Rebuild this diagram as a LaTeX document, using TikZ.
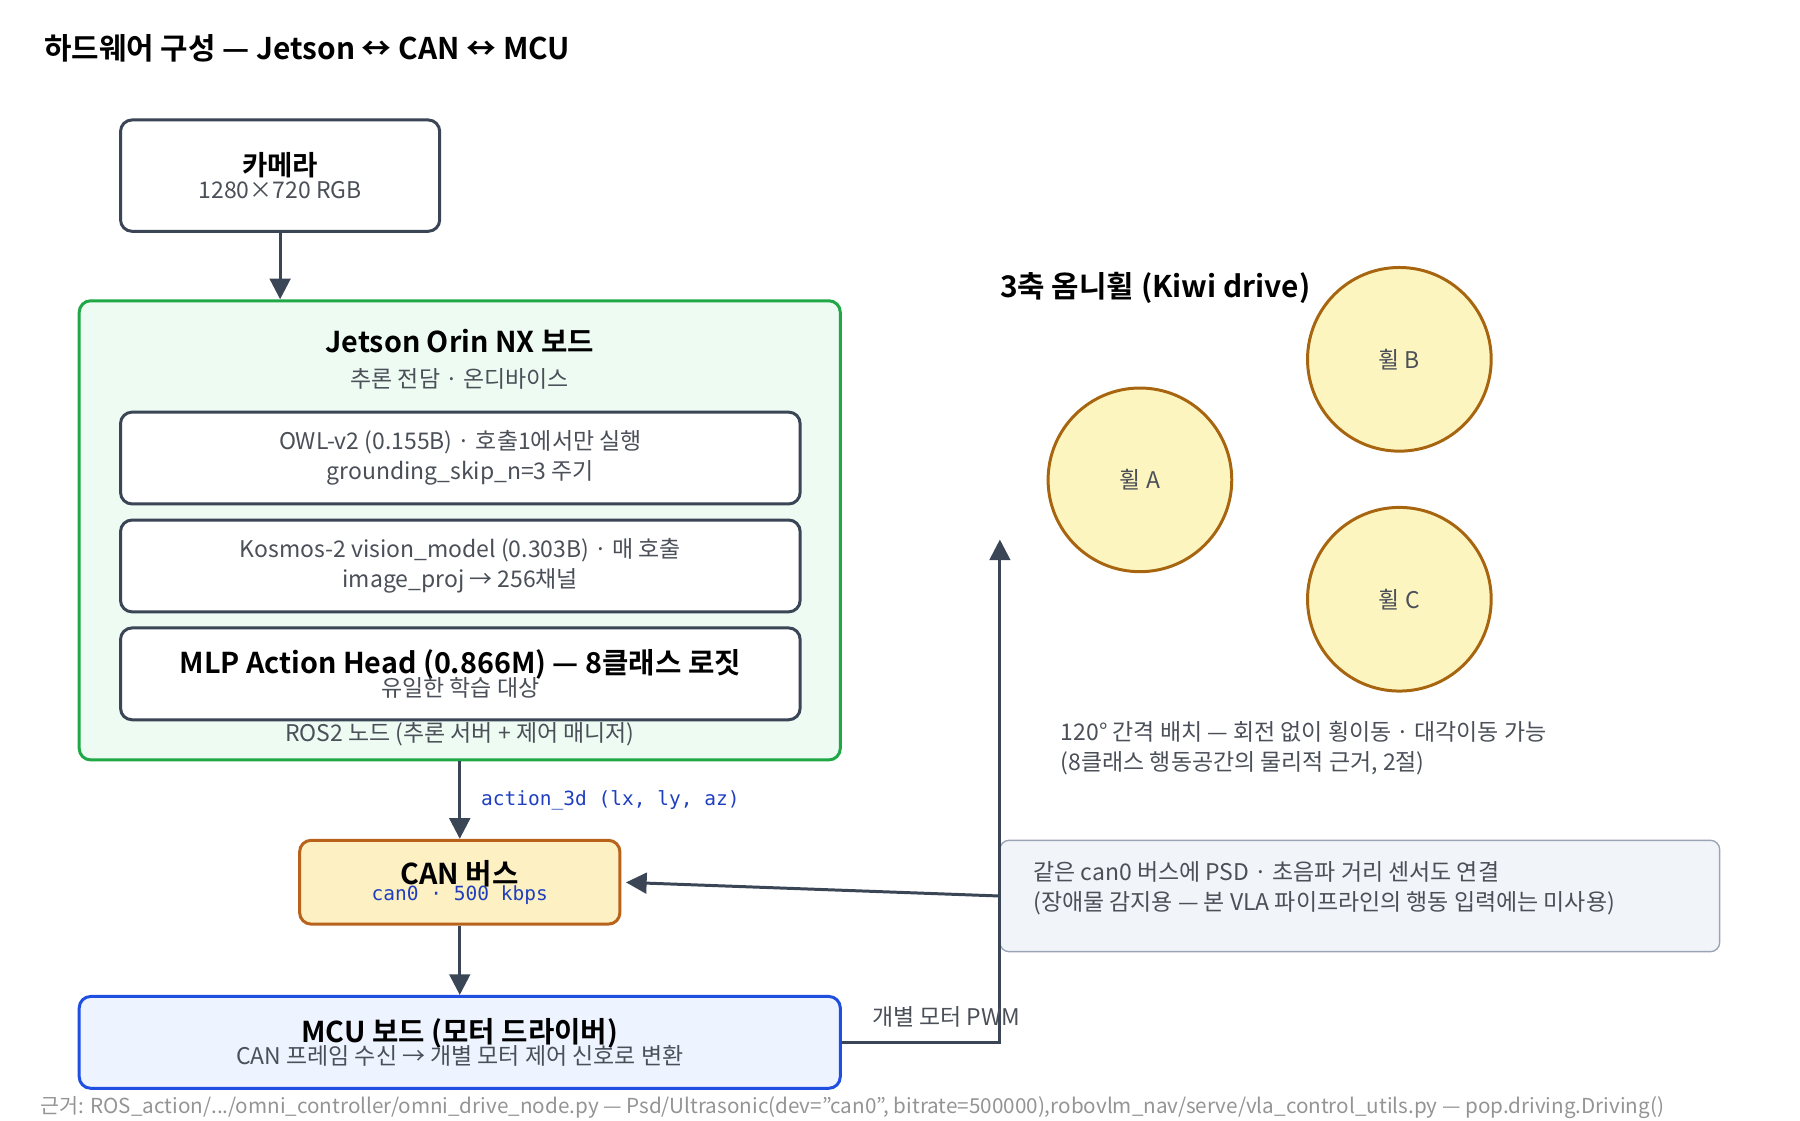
\documentclass[tikz,border=0pt]{standalone}
\usepackage{fontspec}
\setmainfont{Noto Sans CJK KR}[BoldFont={Noto Sans CJK KR Bold}]
\newfontfamily\codefont{DejaVu Sans Mono}
\usetikzlibrary{positioning,arrows.meta}
\definecolor{ink}{HTML}{3A4556}
\definecolor{txtgray}{HTML}{4A4F58}
\definecolor{jetgreen}{HTML}{1FA845}
\definecolor{jetfill}{HTML}{EDFBF3}
\definecolor{canline}{HTML}{B8621B}
\definecolor{canfill}{HTML}{FDF0C2}
\definecolor{mcublue}{HTML}{1F4FE0}
\definecolor{mcufill}{HTML}{EEF4FF}
\definecolor{codeblue}{HTML}{1F3FC0}
\definecolor{wheelline}{HTML}{A8650F}
\definecolor{wheelfill}{HTML}{FDF5C0}
\definecolor{notefill}{HTML}{F1F4F9}
\definecolor{noteline}{HTML}{9AA4B4}
\newcommand{\fsz}[1]{\fontsize{#1pt}{1.3\dimexpr #1pt\relax}\selectfont}
\tikzset{
  box/.style={draw=ink, line width=2.6pt, rounded corners=10pt, fill=white, inner sep=0pt},
  wheel/.style={circle, draw=wheelline, line width=2.6pt, fill=wheelfill, minimum size=160pt, inner sep=0pt, font=\fsz{20}, text=txtgray},
  arr/.style={draw=ink, line width=2.6pt, -{Triangle[length=18pt,width=18pt]}},
  body/.style={font=\fsz{20}, text=txtgray, align=center},
}
\begin{document}
\begin{tikzpicture}[x=1pt,y=-1pt]
\useasboundingbox (0,0) rectangle (1568,976);
% title
\node[anchor=west, font=\bfseries\fsz{26}] (title) at (35,42) {하드웨어 구성 — Jetson ↔ CAN ↔ MCU};
% camera
\node[box, minimum width=278pt, minimum height=97pt] (cam) at (244,153) {};
\node[align=center, inner sep=0pt] (camtxt) at (cam.center) {{\bfseries\fsz{24}카메라}\\[2pt]{\fsz{20}\color{txtgray}1280×720 RGB}};
% jetson
\node[box, draw=jetgreen, fill=jetfill, minimum width=663pt, minimum height=400pt] (jet) at (400.5,462) {};
\node[font=\bfseries\fsz{25}, inner sep=0pt] (jettitle) at (400.5,297) {Jetson Orin NX 보드};
\node[body, inner sep=0pt] (jetsub) at (400.5,330) {추론 전담 · 온디바이스};
\node[box, minimum width=592pt, minimum height=80pt] (owl) at (401,399) {};
\node[body, inner sep=0pt] at (owl.center) {OWL-v2 (0.155B) · 호출1에서만 실행\\grounding\_skip\_n=3 주기};
\node[box, minimum width=592pt, minimum height=80pt] (kos) at (401,493) {};
\node[body, inner sep=0pt] at (kos.center) {Kosmos-2 vision\_model (0.303B) · 매 호출\\image\_proj → 256채널};
\node[box, minimum width=592pt, minimum height=80pt] (mlp) at (401,587) {};
\node[align=center, inner sep=0pt] at (mlp.center) {{\bfseries\fsz{25}MLP Action Head (0.866M) — 8클래스 로짓}\\[-2pt]{\fsz{20}\color{txtgray}유일한 학습 대상}};
\node[body, inner sep=0pt] (ros) at (400.5,640) {ROS2 노드 (추론 서버 + 제어 매니저)};
% can
\node[box, draw=canline, fill=canfill, minimum width=279pt, minimum height=73pt] (can) at (400.5,768.5) {};
\node[align=center, inner sep=0pt] at (can.center) {{\bfseries\fsz{25}CAN 버스}\\[-2pt]{\codefont\fsz{17}\color{codeblue}can0 · 500 kbps}};
% mcu
\node[box, draw=mcublue, fill=mcufill, minimum width=663pt, minimum height=80pt] (mcu) at (400.5,908) {};
\node[align=center, inner sep=0pt] at (mcu.center) {{\bfseries\fsz{25}MCU 보드 (모터 드라이버)}\\[-3pt]{\fsz{20}\color{txtgray}CAN 프레임 수신 → 개별 모터 제어 신호로 변환}};
% sensor note
\node[draw=noteline, line width=1.2pt, fill=notefill, rounded corners=8pt, minimum width=627pt, minimum height=97pt] (note) at (1184.5,780.5) {};
\node[body, align=left, anchor=west, inner sep=0pt] at (900,774) {같은 can0 버스에 PSD · 초음파 거리 센서도 연결\\(장애물 감지용 — 본 VLA 파이프라인의 행동 입력에는 미사용)};
% omni wheels
\node[anchor=west, font=\bfseries\fsz{26}, inner sep=0pt] (omni) at (871,251) {3축 옴니휠 (Kiwi drive)};
\node[wheel] (wa) at (993,418) {휠 A};
\node[wheel] (wb) at (1219,313) {휠 B};
\node[wheel] (wc) at (1219,522) {휠 C};
\node[body, align=left, anchor=west, inner sep=0pt] (wnote) at (924,652) {120° 간격 배치 — 회전 없이 횡이동 · 대각이동 가능\\(8클래스 행동공간의 물리적 근거, 2절)};
% connectors
\coordinate (pwmc) at (871,908);
\coordinate (pwmtip) at (871,470);
\draw[arr] (cam.south) -- (jet.north -| cam.south);
\draw[arr] (jet.south) -- node[right=14pt, font=\codefont\fsz{17}, text=codeblue] {action\_3d (lx, ly, az)} (can.north);
\draw[arr] (can.south) -- (mcu.north);
\draw[arr] (mcu.east) -- (pwmc) -- (pwmtip);
\node[body, anchor=south east, inner sep=0pt] (pwm) at (889,895) {개별 모터 PWM};
\draw[arr, shorten >=4pt] (note.west) -- (can.east);
% footer
\node[anchor=west, font=\fsz{18}, text=black!42, inner sep=0pt] (foot) at (35,965) {근거: ROS\_action/.../omni\_controller/omni\_drive\_node.py — Psd/Ultrasonic(dev="can0", bitrate=500000),robovlm\_nav/serve/vla\_control\_utils.py — pop.driving.Driving()};
\end{tikzpicture}
\end{document}
